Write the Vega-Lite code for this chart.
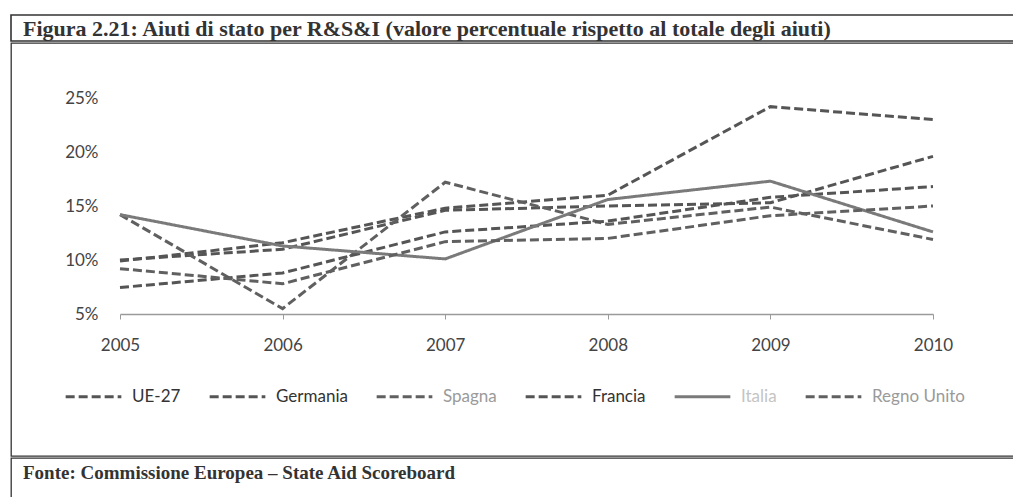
{
  "$schema": "https://vega.github.io/schema/vega-lite/v6.json",
  "padding": {"top": 14, "left": 10, "right": 0, "bottom": 0},
  "spacing": 0,
  "config": {
    "view": {"stroke": "#333", "strokeWidth": 1.3},
    "font": "Lato"
  },
  "vconcat": [
    {
      "width": 1003,
      "height": 26,
      "view": {"stroke": "#333", "strokeWidth": 1.6},
      "data": {"values": [{"testo": "Figura 2.21: Aiuti di stato per R&S&I (valore percentuale rispetto al totale degli aiuti)", "pos": 0}]},
      "mark": {"type": "text", "align": "left", "baseline": "middle", "dx": 12, "dy": 1, "font": "Liberation Serif", "fontSize": 22, "fontWeight": "bold", "color": "#333"},
      "encoding": {
        "x": {"field": "pos", "type": "quantitative", "scale": {"domain": [0, 1], "nice": false, "zero": false}, "axis": null},
        "text": {"field": "testo"}
      }
    },
    {
      "width": 1003,
      "height": 413,
      "view": {"stroke": "#333", "strokeWidth": 1.3},
      "data": {
        "values": [
          {"serie": "UE-27", "anno": 2005, "valore": 10.0},
          {"serie": "UE-27", "anno": 2006, "valore": 11.0},
          {"serie": "UE-27", "anno": 2007, "valore": 14.6},
          {"serie": "UE-27", "anno": 2008, "valore": 15.0},
          {"serie": "UE-27", "anno": 2009, "valore": 15.3},
          {"serie": "UE-27", "anno": 2010, "valore": 19.6},
          {"serie": "Germania", "anno": 2005, "valore": 9.9},
          {"serie": "Germania", "anno": 2006, "valore": 11.6},
          {"serie": "Germania", "anno": 2007, "valore": 14.8},
          {"serie": "Germania", "anno": 2008, "valore": 16.0},
          {"serie": "Germania", "anno": 2009, "valore": 24.2},
          {"serie": "Germania", "anno": 2010, "valore": 23.0},
          {"serie": "Spagna", "anno": 2005, "valore": 14.2},
          {"serie": "Spagna", "anno": 2006, "valore": 5.5},
          {"serie": "Spagna", "anno": 2007, "valore": 17.2},
          {"serie": "Spagna", "anno": 2008, "valore": 13.3},
          {"serie": "Spagna", "anno": 2009, "valore": 14.9},
          {"serie": "Spagna", "anno": 2010, "valore": 11.9},
          {"serie": "Francia", "anno": 2005, "valore": 7.45},
          {"serie": "Francia", "anno": 2006, "valore": 8.8},
          {"serie": "Francia", "anno": 2007, "valore": 12.6},
          {"serie": "Francia", "anno": 2008, "valore": 13.6},
          {"serie": "Francia", "anno": 2009, "valore": 15.8},
          {"serie": "Francia", "anno": 2010, "valore": 16.8},
          {"serie": "Italia", "anno": 2005, "valore": 14.2},
          {"serie": "Italia", "anno": 2006, "valore": 11.3},
          {"serie": "Italia", "anno": 2007, "valore": 10.1},
          {"serie": "Italia", "anno": 2008, "valore": 15.6},
          {"serie": "Italia", "anno": 2009, "valore": 17.3},
          {"serie": "Italia", "anno": 2010, "valore": 12.6},
          {"serie": "Regno Unito", "anno": 2005, "valore": 9.2},
          {"serie": "Regno Unito", "anno": 2006, "valore": 7.8},
          {"serie": "Regno Unito", "anno": 2007, "valore": 11.7},
          {"serie": "Regno Unito", "anno": 2008, "valore": 12.0},
          {"serie": "Regno Unito", "anno": 2009, "valore": 14.1},
          {"serie": "Regno Unito", "anno": 2010, "valore": 15.0}
        ]
      },
      "encoding": {
        "x": {
          "field": "anno",
          "type": "quantitative",
          "scale": {"domain": [2005, 2010], "range": [109, 922], "nice": false, "zero": false},
          "axis": {
            "title": null,
            "values": [2005, 2006, 2007, 2008, 2009, 2010],
            "format": "d",
            "offset": -142,
            "grid": false,
            "domainColor": "#9a9a9a",
            "domainWidth": 1.5,
            "tickColor": "#9a9a9a",
            "tickSize": 5,
            "labelPadding": 18,
            "labelFont": "Lato",
            "labelFontSize": 17,
            "labelColor": "#444",
            "labelFlush": false
          }
        },
        "y": {
          "field": "valore",
          "type": "quantitative",
          "scale": {"domain": [5, 25], "range": [271, 55], "nice": false, "zero": false},
          "axis": {
            "title": null,
            "values": [5, 10, 15, 20, 25],
            "labelExpr": "datum.value + '%'",
            "offset": -90,
            "grid": false,
            "domain": false,
            "ticks": false,
            "labelPadding": 3,
            "labelFont": "Lato",
            "labelFontSize": 17,
            "labelColor": "#444"
          }
        }
      },
      "layer": [
        {
          "mark": {"type": "line", "strokeWidth": 3},
          "encoding": {
            "detail": {"field": "serie"},
            "color": {
              "field": "serie",
              "type": "nominal",
              "scale": {
                "domain": ["UE-27", "Germania", "Spagna", "Francia", "Italia", "Regno Unito"],
                "range": ["#555555", "#555555", "#606060", "#555555", "#7a7a7a", "#606060"]
              },
              "legend": {
                "title": null,
                "orient": "none",
                "direction": "horizontal",
                "columns": 6,
                "legendX": 53,
                "legendY": 352,
                "symbolType": "stroke",
                "symbolSize": 3100,
                "symbolStrokeWidth": 3,
                "labelFont": "Lato",
                "labelFontSize": 17,
                "labelOffset": 9,
                "columnPadding": 22,
                "padding": 0,
                "encode": {
                  "labels": {
                    "update": {
                      "fill": {"signal": "indexof(['Spagna','Regno Unito'], datum.value) >= 0 ? '#9a9a9a' : (datum.value == 'Italia' ? '#c4c4c4' : '#333333')"}
                    }
                  }
                }
              }
            },
            "strokeDash": {
              "field": "serie",
              "type": "nominal",
              "scale": {
                "domain": ["UE-27", "Germania", "Spagna", "Francia", "Italia", "Regno Unito"],
                "range": [[9, 4], [9, 4], [9, 4], [9, 4], [1, 0], [9, 4]]
              },
              "legend": {
                "title": null,
                "orient": "none",
                "direction": "horizontal",
                "columns": 6,
                "legendX": 53,
                "legendY": 352,
                "symbolType": "stroke",
                "symbolSize": 3100,
                "symbolStrokeWidth": 3,
                "labelFont": "Lato",
                "labelFontSize": 17,
                "labelOffset": 9,
                "columnPadding": 22,
                "padding": 0
              }
            }
          }
        }
      ]
    },
    {
      "width": 1003,
      "height": 42,
      "view": {"stroke": "#333", "strokeWidth": 1.3},
      "data": {"values": [{"testo": "Fonte: Commissione Europea – State Aid Scoreboard", "pos": 0}]},
      "mark": {"type": "text", "align": "left", "baseline": "middle", "dx": 12, "dy": -6, "font": "Liberation Serif", "fontSize": 19, "fontWeight": "bold", "color": "#333"},
      "encoding": {
        "x": {"field": "pos", "type": "quantitative", "scale": {"domain": [0, 1], "nice": false, "zero": false}, "axis": null},
        "text": {"field": "testo"}
      }
    }
  ]
}
